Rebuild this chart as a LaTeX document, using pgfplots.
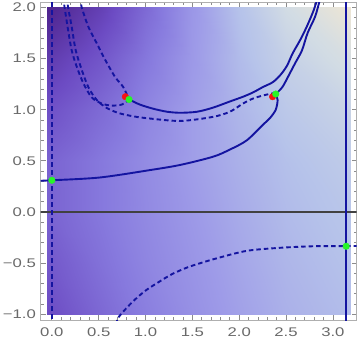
\documentclass[border=0pt]{standalone}
\usepackage{fontspec}
\setmainfont{Liberation Sans}
\usepackage{pgfplots}
\pgfplotsset{compat=1.18}
\definecolor{cline}{RGB}{20,20,160}
\definecolor{framegray}{RGB}{175,175,175}
\definecolor{tickgray}{RGB}{140,140,140}
\definecolor{labgray}{RGB}{105,105,105}
\definecolor{axline}{RGB}{65,65,65}
\definecolor{gpt}{RGB}{40,245,40}
\definecolor{rpt}{RGB}{245,20,20}
\begin{document}
\begin{tikzpicture}
\path[use as bounding box] (-40.5bp,-23bp) rectangle (319.5bp,320bp);
\begin{axis}[
  scale only axis,
  width=316.2bp, height=317.5bp,
  xmin=-0.121, xmax=3.254,
  ymin=-1.056, ymax=2.048,
  axis line style={draw=framegray, line width=0.9bp},
  tick align=inside,
  major tick length=5bp, minor tick length=3bp,
  every tick/.style={draw=tickgray, line width=0.7bp},
  xtick={0,0.5,1,1.5,2,2.5,3},
  xticklabels={0.0,0.5,1.0,1.5,2.0,2.5,3.0},
  ytick={-1,-0.5,0,0.5,1,1.5,2},
  yticklabels={−1.0,−0.5,0.0,0.5,1.0,1.5,2.0},
  minor x tick num=4, minor y tick num=4,
  tick label style={font=\fontsize{12.6}{14}\selectfont, text=labgray, xscale=1.33},
  xticklabel style={yshift=-4.5bp},
  colormap={bg}{rgb255(0)=(78,35,140) rgb255(0.2)=(108,75,195) rgb255(0.4)=(135,122,222) rgb255(0.55)=(158,155,232) rgb255(0.7)=(182,195,234) rgb255(0.85)=(210,220,228) rgb255(1)=(238,230,212)},
  point meta min=0, point meta max=1,
  clip=true,
  cont/.style={cline, line width=1.9bp, smooth},
  dcont/.style={cline, line width=1.9bp, smooth, dash pattern=on 4.5bp off 3bp},
]
% background density
\addplot[surf, shader=interp, mesh/rows=7, point meta=explicit] table[x=x, y=y, meta=c] {
x y c
-0.05 -1 0.20
0.5 -1 0.32
1.0 -1 0.42
1.5 -1 0.50
2.0 -1 0.57
2.5 -1 0.63
3.19 -1 0.68
-0.05 -0.5 0.25
0.5 -0.5 0.36
1.0 -0.5 0.45
1.5 -0.5 0.52
2.0 -0.5 0.59
2.5 -0.5 0.65
3.19 -0.5 0.70
-0.05 0 0.30
0.5 0 0.39
1.0 0 0.47
1.5 0 0.54
2.0 0 0.61
2.5 0 0.67
3.19 0 0.72
-0.05 0.5 0.30
0.5 0.5 0.39
1.0 0.5 0.48
1.5 0.5 0.56
2.0 0.5 0.63
2.5 0.5 0.69
3.19 0.5 0.75
-0.05 1 0.22
0.5 1 0.33
1.0 1 0.45
1.5 1 0.56
2.0 1 0.65
2.5 1 0.73
3.19 1 0.80
-0.05 1.5 0.12
0.5 1.5 0.24
1.0 1.5 0.39
1.5 1.5 0.54
2.0 1.5 0.67
2.5 1.5 0.78
3.19 1.5 0.88
-0.05 2 0.00
0.5 2 0.14
1.0 2 0.33
1.5 2 0.53
2.0 2 0.70
2.5 2 0.85
3.19 2 1.00
};
% horizontal axis line
\addplot[axline, line width=1.2bp] coordinates {(-0.2,0) (3.4,0)};
% vertical lines
\addplot[cline, line width=1.9bp, dash pattern=on 5bp off 3bp] coordinates {(0,-1.2) (0,2.2)};
\addplot[cline, line width=1.9bp] coordinates {(3.14159,-1.2) (3.14159,2.2)};
% solid contours
\addplot[cont] coordinates {
(-0.13,0.305) (0,0.31) (0.51,0.337) (1.05,0.41) (1.37,0.46) (1.72,0.54) (1.90,0.61) (2.08,0.70) (2.25,0.85) (2.33,0.92) (2.39,1.00) (2.41,1.095) (2.39,1.153)};
\addplot[cont] coordinates {
(2.39,1.153) (2.46,1.22) (2.52,1.32) (2.60,1.46) (2.67,1.58) (2.73,1.75) (2.81,1.91) (2.86,2.07) (2.87,2.1)};
\addplot[cont] coordinates {
(0.824,1.10) (0.94,1.05) (1.08,1.01) (1.23,0.98) (1.37,0.97) (1.55,0.98) (1.72,1.02) (1.90,1.08) (2.05,1.13) (2.15,1.17) (2.25,1.22) (2.36,1.27) (2.44,1.34) (2.51,1.43) (2.57,1.55) (2.65,1.68) (2.72,1.81) (2.79,1.96) (2.83,2.07) (2.84,2.1)};
% dashed contours
\addplot[dcont] coordinates {
(0.125,2.1) (0.133,2.02) (0.170,1.80) (0.212,1.58) (0.266,1.42) (0.336,1.26) (0.426,1.12) (0.533,1.06) (0.639,1.04) (0.746,1.05) (0.80,1.08) (0.824,1.10)};
\addplot[dcont] coordinates {
(0.163,2.1) (0.170,2.02) (0.212,1.81) (0.255,1.58) (0.319,1.39) (0.390,1.22) (0.479,1.095) (0.586,1.017) (0.710,0.968) (0.853,0.938) (0.995,0.919) (1.368,0.89) (1.72,0.93) (1.90,0.98) (2.04,1.06) (2.15,1.11) (2.26,1.14) (2.36,1.16) (2.39,1.153)};
\addplot[dcont] coordinates {
(0.30,2.1) (0.319,2.00) (0.390,1.81) (0.479,1.65) (0.568,1.49) (0.675,1.32) (0.763,1.22) (0.824,1.10)};
\addplot[dcont] coordinates {
(0.69,-1.1) (0.699,-1.049) (0.746,-0.990) (0.863,-0.877) (0.995,-0.772) (1.137,-0.687) (1.280,-0.609) (1.44,-0.544) (1.60,-0.496) (1.76,-0.453) (2.08,-0.38) (2.44,-0.35) (2.79,-0.335) (3.14,-0.333) (3.3,-0.333)};
% points
\addplot[rpt, only marks, mark=*, mark size=3.3bp, mark options={draw=rpt, fill=rpt, solid}] coordinates {(0.785,1.127) (2.356,1.127)};
\addplot[gpt, only marks, mark=*, mark size=3.3bp, mark options={draw=gpt, fill=gpt, solid}] coordinates {(0,0.31) (0.824,1.10) (2.39,1.153) (3.14159,-0.335)};
\end{axis}
\end{tikzpicture}
\end{document}
